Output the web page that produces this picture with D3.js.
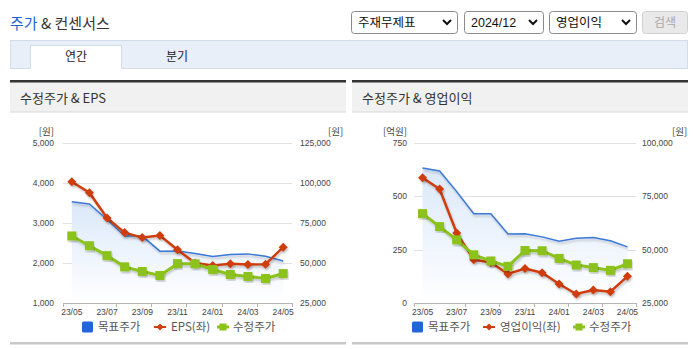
<!DOCTYPE html>
<html><head><meta charset="utf-8">
<script src="https://cdn.jsdelivr.net/npm/d3@7"></script>
<style>
html,body{margin:0;padding:0;background:#fff;}
svg{display:block;}
text{font-family:"Liberation Sans",Arial,"Noto Sans CJK KR",sans-serif;}
.kr{font-family:"Noto Sans CJK KR","Liberation Sans",sans-serif;}
</style></head>
<body>
<svg id="c" width="695" height="349"></svg>
<script>
// ---- data ----
const months = ["23/05","23/06","23/07","23/08","23/09","23/10","23/11","23/12","24/01","24/02","24/03","24/04","24/05"];
const tickMonths = ["23/05","23/07","23/09","23/11","24/01","24/03","24/05"];
const targetPrice = [88300, 86900, 77200, 66800, 66800, 57400, 57500, 56000, 54000, 55300, 55700, 54200, 51300];
const adjPrice = [66900, 60800, 54600, 47600, 44700, 42200, 49600, 49500, 45900, 42800, 41600, 40300, 43400];
const eps = [4030, 3755, 3125, 2760, 2635, 2685, 2330, 2000, 1935, 1980, 1960, 1970, 2395];
const opProfit = [587, 534, 328, 203, 190, 136, 162, 142, 89, 42, 61, 53, 125];
const epsTicks = [1000, 2000, 3000, 4000, 5000];
const priceTicksA = [25000, 50000, 75000, 100000, 125000];
const opTicks = [0, 250, 500, 750];
const priceTicksB = [25000, 50000, 75000, 100000];
const selectLabels = ["주재무제표", "2024/12", "영업이익"];
const tabLabels = ["연간", "분기"];

const C = {blue:"#3b78d8", red:"#cf3d0c", green:"#8cc21c", grid:"#e1e1e1", axis:"#b5b5b5", label:"#444"};
const svg = d3.select("#c");
const defs = svg.append("defs");
const grad = defs.append("linearGradient").attr("id","areaGrad").attr("x1",0).attr("y1",0).attr("x2",0).attr("y2",1);
grad.append("stop").attr("offset","0%").attr("stop-color","#d9e7f9");
grad.append("stop").attr("offset","100%").attr("stop-color","#ffffff");
const sh = defs.append("filter").attr("id","shadow").attr("x","-10%").attr("y","-10%").attr("width","120%").attr("height","130%");
sh.append("feDropShadow").attr("dx",1).attr("dy",2).attr("stdDeviation",1).attr("flood-color","#000").attr("flood-opacity",0.22);

// ---- header ----
const title = svg.append("text").attr("class","kr").attr("x",10).attr("y",29).attr("font-size",15);
title.append("tspan").attr("fill","#1f63d0").text("주가");
title.append("tspan").attr("fill","#333").text(" & 컨센서스");

const selBoxes = [[351,457],[464,543],[549,636]];
selBoxes.forEach((b,i)=>{
  svg.append("rect").attr("x",b[0]+0.5).attr("y",11.5).attr("width",b[1]-b[0]).attr("height",22).attr("rx",3)
    .attr("fill","#fff").attr("stroke","#8a8a8a");
  svg.append("text").attr("class", i===1 ? "" : "kr").attr("x",b[0]+7).attr("y",27).attr("font-size",12.5).attr("fill","#111").text(selectLabels[i]);
  const cx = b[1]-10;
  svg.append("path").attr("d",`M${cx-4},${20} L${cx},${24} L${cx+4},${20}`).attr("fill","none").attr("stroke","#111").attr("stroke-width",2);
});
svg.append("rect").attr("x",642.5).attr("y",11.5).attr("width",45).attr("height",22).attr("rx",3).attr("fill","#e9e9e9").attr("stroke","#d0d0d0");
svg.append("text").attr("class","kr").attr("x",665).attr("y",27).attr("text-anchor","middle").attr("font-size",12).attr("fill","#a8a8a8").text("검색");

// tabs
svg.append("rect").attr("x",10.5).attr("y",40.5).attr("width",677).attr("height",28).attr("fill","#e8eff9").attr("stroke","#d3dcea");
svg.append("path").attr("d","M30.5,69 V45.5 H121.5 V69").attr("fill","#fff").attr("stroke","#d3dcea");
svg.append("rect").attr("x",31).attr("y",46).attr("width",90).attr("height",24).attr("fill","#fff");
svg.append("text").attr("class","kr").attr("x",76).attr("y",61).attr("text-anchor","middle").attr("font-size",12).attr("fill","#222").text(tabLabels[0]);
svg.append("text").attr("class","kr").attr("x",177).attr("y",61).attr("text-anchor","middle").attr("font-size",12).attr("fill","#222").text(tabLabels[1]);

// ---- panels ----
function panel(px, title){
  svg.append("rect").attr("x",px).attr("y",82).attr("width",336).attr("height",30).attr("fill","#f1f1f1");
  svg.append("rect").attr("x",px).attr("y",80).attr("width",336).attr("height",2.5).attr("fill","#333");
  svg.append("rect").attr("x",px).attr("y",111.5).attr("width",336).attr("height",1).attr("fill","#dadada");
  svg.append("text").attr("class","kr").attr("x",px+10).attr("y",102.5).attr("font-size",13).attr("fill","#333").text(title);
  svg.append("rect").attr("x",px).attr("y",342).attr("width",336).attr("height",2.5).attr("fill","#c8c8c8");
}
panel(10, "수정주가 & EPS");
panel(352, "수정주가 & 영업이익");

function chart(o){
  const g = svg.append("g");
  const x = d3.scaleBand().domain(months).range([o.x0, o.x1]);
  const bw = x.bandwidth();
  const cx = d => x(d) + bw/2;
  const yl = d3.scaleLinear().domain(o.lDomain).range([o.yBot, o.yTop]);
  const yr = d3.scaleLinear().domain(o.rDomain).range([o.yBot, o.yTop]);
  // grid
  o.lTicks.forEach(t=>{
    g.append("line").attr("x1",o.x0).attr("x2",o.x1).attr("y1",Math.round(yl(t))+0.5).attr("y2",Math.round(yl(t))+0.5)
      .attr("stroke", t===o.lDomain[0] ? C.axis : C.grid);
    g.append("text").attr("x",o.lx).attr("y",yl(t)+3).attr("text-anchor","end").attr("font-size",8.5).attr("fill",C.label).text(d3.format(",")(t));
  });
  o.rTicks.forEach(t=>{
    g.append("text").attr("x",o.rx).attr("y",yr(t)+3).attr("font-size",8.5).attr("fill",C.label).text(d3.format(",")(t));
  });
  g.append("text").attr("class","kr").attr("x",o.lx).attr("y",o.yTop-8).attr("text-anchor","end").attr("font-size",9.5).attr("fill",C.label).text(o.lUnit);
  g.append("text").attr("class","kr").attr("x",o.rUnitX).attr("y",o.yTop-8).attr("font-size",9.5).attr("fill",C.label).text("[원]");
  // x ticks
  const tpos = [o.x0].concat(tickMonths.slice(1).map(m => x(m)+bw));
  tpos.forEach(p=>{
    g.append("line").attr("x1",Math.round(p)+0.5).attr("x2",Math.round(p)+0.5).attr("y1",o.yBot).attr("y2",o.yBot+4).attr("stroke",C.axis);
  });
  tickMonths.forEach(m=>{
    g.append("text").attr("x",cx(m)).attr("y",o.yBot+12).attr("text-anchor","middle").attr("font-size",8.5).attr("fill",C.label).text(m);
  });
  // area + target line
  const pts = months.map((m,i)=>({m, t:o.blue[i], l:o.red[i], g:o.green[i]}));
  g.append("path").datum(pts).attr("fill","url(#areaGrad)").attr("opacity",0.95)
    .attr("d", d3.area().x(d=>cx(d.m)).y0(o.yBot).y1(d=>yr(d.t)));
  g.append("path").datum(pts).attr("fill","none").attr("stroke",C.blue).attr("stroke-width",1.5).attr("filter","url(#shadow)")
    .attr("d", d3.line().x(d=>cx(d.m)).y(d=>yr(d.t)));
  // red line
  g.append("path").datum(pts).attr("fill","none").attr("stroke",C.red).attr("stroke-width",2.5).attr("filter","url(#shadow)")
    .attr("d", d3.line().x(d=>cx(d.m)).y(d=>yl(d.l)));
  g.selectAll(null).data(pts).enter().append("path").attr("fill",C.red).attr("filter","url(#shadow)")
    .attr("d", d=>{const X=cx(d.m),Y=yl(d.l);return `M${X},${Y-4.5} L${X+4.5},${Y} L${X},${Y+4.5} L${X-4.5},${Y} Z`;});
  // green line
  g.append("path").datum(pts).attr("fill","none").attr("stroke",C.green).attr("stroke-width",3).attr("filter","url(#shadow)")
    .attr("d", d3.line().x(d=>cx(d.m)).y(d=>yr(d.g)));
  g.selectAll(null).data(pts).enter().append("rect").attr("fill",C.green).attr("filter","url(#shadow)")
    .attr("x",d=>cx(d.m)-4.5).attr("y",d=>yr(d.g)-4.5).attr("width",9).attr("height",9);
  // legend
  const ly = 327;
  const lg = svg.append("g");
  lg.append("rect").attr("x",o.leg[0]).attr("y",ly-5.5).attr("width",11).attr("height",11).attr("rx",1.5).attr("fill","#2166d8");
  lg.append("text").attr("class","kr").attr("x",o.leg[0]+16).attr("y",ly+4).attr("font-size",11.5).attr("fill","#555").text("목표주가");
  lg.append("line").attr("x1",o.leg[1]).attr("x2",o.leg[1]+12).attr("y1",ly).attr("y2",ly).attr("stroke",C.red).attr("stroke-width",2);
  lg.append("path").attr("fill",C.red).attr("d",`M${o.leg[1]+6},${ly-3.5} L${o.leg[1]+9.5},${ly} L${o.leg[1]+6},${ly+3.5} L${o.leg[1]+2.5},${ly} Z`);
  lg.append("text").attr("class","kr").attr("x",o.leg[1]+17).attr("y",ly+4).attr("font-size",11.5).attr("fill","#555").text(o.redName);
  lg.append("line").attr("x1",o.leg[2]).attr("x2",o.leg[2]+12).attr("y1",ly).attr("y2",ly).attr("stroke",C.green).attr("stroke-width",3);
  lg.append("rect").attr("x",o.leg[2]+2.5).attr("y",ly-3.5).attr("width",7).attr("height",7).attr("fill",C.green);
  lg.append("text").attr("class","kr").attr("x",o.leg[2]+16).attr("y",ly+4).attr("font-size",11.5).attr("fill","#555").text("수정주가");
}

chart({x0:63, x1:292, yTop:143, yBot:303, lDomain:[1000,5000], lTicks:epsTicks, rDomain:[25000,125000], rTicks:priceTicksA,
  lx:54, rx:300, lUnit:"[원]", rUnitX:328, blue:targetPrice, red:eps, green:adjPrice,
  leg:[82,154,217], redName:"EPS(좌)"});
chart({x0:414, x1:636, yTop:143, yBot:303, lDomain:[0,750], lTicks:opTicks, rDomain:[25000,100000], rTicks:priceTicksB,
  lx:407, rx:642, lUnit:"[억원]", rUnitX:672, blue:targetPrice, red:opProfit, green:adjPrice,
  leg:[412,483,573], redName:"영업이익(좌)"});
</script>
</body></html>
